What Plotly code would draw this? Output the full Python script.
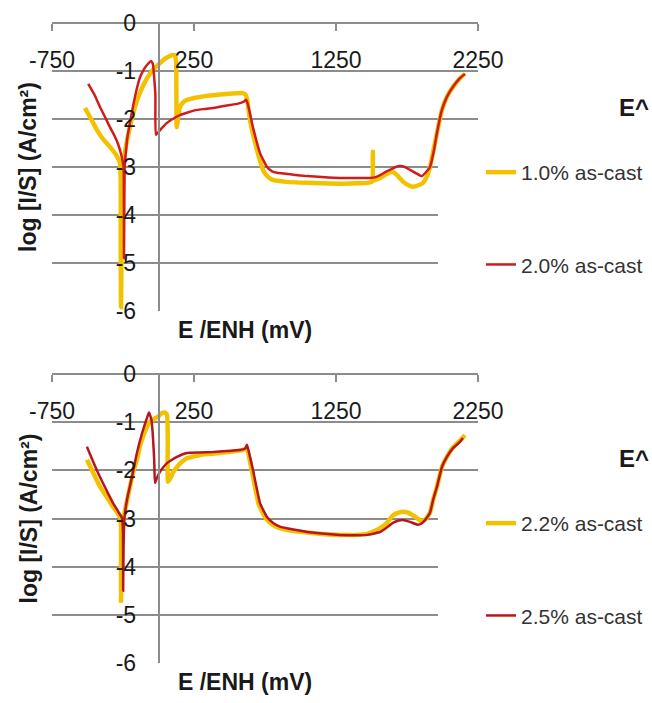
import plotly.graph_objects as go

# Polarisation curves, E (mV vs ENH) against log current density
x_10 = [-518, -475, -433, -390, -342, -300, -271, -266, -266, -264, -260, -256, -248, -225, -201, -180,
        -152, -120, -80, -40, -5, 30, 60, 95, 116, 124, 126, 128, 140, 151, 175, 201, 292, 433, 520,
        595, 615, 625, 644, 694, 736, 770, 806, 900, 1046, 1150, 1278, 1400, 1475, 1505, 1510, 1513,
        1560, 1610, 1644, 1680, 1720, 1760, 1792, 1830, 1862, 1890, 1912, 1940, 1961, 1996, 2031,
        2074, 2123, 2158]
y_10 = [-1.77, -2.0, -2.23, -2.42, -2.58, -2.74, -2.92, -3.3, -4.5, -5.92, -4.6, -3.4, -2.95, -2.5,
        -2.17, -1.9, -1.62, -1.38, -1.15, -0.98, -0.88, -0.78, -0.72, -0.67, -0.67, -0.8, -1.5, -2.17,
        -1.95, -1.75, -1.65, -1.6, -1.54, -1.49, -1.47, -1.46, -1.5, -1.6, -2.02, -2.65, -3.06, -3.2,
        -3.27, -3.31, -3.33, -3.34, -3.35, -3.34, -3.33, -3.3, -2.68, -3.28, -3.23, -3.14, -3.1, -3.17,
        -3.3, -3.38, -3.41, -3.38, -3.33, -3.2, -3.0, -2.6, -2.29, -1.81, -1.54, -1.33, -1.15, -1.06]

x_20 = [-495, -450, -412, -375, -342, -310, -285, -262, -246, -244, -243, -241, -238, -230, -220, -201,
        -166, -130, -100, -81, -53, -40, -22, -18, 20, 60, 100, 151, 210, 271, 330, 384, 440, 503, 560,
        600, 616, 630, 665, 715, 764, 800, 834, 950, 1046, 1150, 1278, 1400, 1489, 1530, 1560, 1600,
        1630, 1670, 1700, 1735, 1771, 1820, 1855, 1880, 1912, 1940, 1961, 1996, 2031, 2074, 2123, 2158]
y_20 = [-1.27, -1.5, -1.75, -1.97, -2.17, -2.35, -2.52, -2.75, -3.0, -3.5, -4.9, -4.0, -3.0, -2.7,
        -2.4, -2.08, -1.54, -1.13, -0.95, -0.875, -0.79, -0.85, -1.5, -2.33, -2.2, -2.08, -2.0, -1.92,
        -1.86, -1.81, -1.79, -1.77, -1.74, -1.71, -1.68, -1.64, -1.6, -1.7, -2.17, -2.71, -3.0, -3.09,
        -3.12, -3.16, -3.19, -3.21, -3.23, -3.23, -3.23, -3.21, -3.17, -3.1, -3.06, -3.0, -2.98, -3.0,
        -3.06, -3.14, -3.19, -3.12, -3.0, -2.65, -2.29, -1.81, -1.54, -1.33, -1.15, -1.06]

x_22 = [-504, -460, -412, -365, -320, -285, -266, -264, -264, -260, -252, -230, -201, -175, -152, -130,
        -109, -85, -60, -30, 0, 25, 45, 60, 65, 67, 85, 105, 130, 165, 201, 250, 292, 360, 433, 520,
        590, 615, 628, 660, 705, 755, 800, 855, 950, 1046, 1150, 1278, 1380, 1468, 1520, 1560, 1609,
        1645, 1680, 1720, 1750, 1790, 1820, 1850, 1877, 1912, 1935, 1961, 1996, 2031, 2074, 2123, 2158]
y_22 = [-1.78, -2.05, -2.34, -2.55, -2.76, -2.9, -3.03, -3.5, -4.75, -3.8, -3.1, -2.75, -2.34, -2.0,
        -1.78, -1.5, -1.3, -1.12, -0.99, -0.93, -0.88, -0.81, -0.8, -0.85, -1.3, -2.24, -2.15, -2.03,
        -1.93, -1.82, -1.75, -1.71, -1.68, -1.66, -1.64, -1.61, -1.58, -1.55, -1.6, -2.05, -2.7, -3.0,
        -3.12, -3.2, -3.26, -3.29, -3.32, -3.34, -3.34, -3.32, -3.26, -3.2, -3.09, -2.95, -2.89, -2.86,
        -2.87, -2.93, -2.99, -3.05, -3.03, -2.88, -2.6, -2.34, -1.93, -1.72, -1.52, -1.38, -1.27]

x_25 = [-504, -460, -412, -365, -320, -285, -257, -250, -249, -246, -240, -222, -187, -152, -116, -81,
        -67, -50, -30, -25, -10, 10, 35, 60, 95, 130, 201, 290, 384, 480, 574, 610, 623, 635, 665, 715,
        764, 810, 855, 950, 1046, 1150, 1278, 1380, 1468, 1520, 1560, 1610, 1651, 1690, 1722, 1771,
        1827, 1855, 1877, 1912, 1935, 1961, 1996, 2031, 2074, 2123, 2144]
y_25 = [-1.51, -1.82, -2.14, -2.42, -2.68, -2.85, -2.99, -3.3, -4.5, -3.6, -3.0, -2.61, -2.14, -1.64,
        -1.23, -0.91, -0.8, -0.95, -1.8, -2.26, -2.15, -2.03, -1.93, -1.85, -1.78, -1.72, -1.64, -1.63,
        -1.62, -1.6, -1.58, -1.55, -1.47, -1.6, -1.99, -2.68, -2.97, -3.1, -3.17, -3.23, -3.28, -3.31,
        -3.34, -3.35, -3.34, -3.31, -3.28, -3.18, -3.09, -3.04, -3.03, -3.07, -3.13, -3.1, -3.03, -2.88,
        -2.6, -2.34, -1.93, -1.72, -1.54, -1.41, -1.33]

x_ticks = [-750, 250, 1250, 2250]
x_tick_labels = ["-750", "250", "1250", "2250"]
y_ticks = [0, -1, -2, -3, -4, -5, -6]
y_tick_labels = ["0", "-1", "-2", "-3", "-4", "-5", "-6"]

W, H = 652, 703
YELLOW = "#F2C200"
RED_TOP = "#D01C1C"
RED_BOTTOM = "#B8161E"
GRID = "#8c8c8c"
FONT = "Liberation Sans, Arial, sans-serif"


def fx(p):
    return p / W


def fy(p):
    return 1 - p / H


fig = go.Figure()

series = [
    (x_10, y_10, "1.0% as-cast", YELLOW, 4.5, "x", "y", "legend"),
    (x_20, y_20, "2.0% as-cast", RED_TOP, 2.5, "x", "y", "legend"),
    (x_22, y_22, "2.2% as-cast", YELLOW, 4.5, "x2", "y2", "legend2"),
    (x_25, y_25, "2.5% as-cast", RED_BOTTOM, 2.5, "x2", "y2", "legend2"),
]
for i, (xs, ys, name, color, width, xa, ya, lg) in enumerate(series):
    fig.add_trace(go.Scatter(
        x=xs, y=ys, name=name, mode="lines",
        line=dict(color=color, width=width, shape="spline", smoothing=0.4),
        xaxis=xa, yaxis=ya, legend=lg, legendgroup=f"g{i}",
    ))

x_dom = [fx(52), fx(478)]
y0_pos = x_dom[0] + (0 - x_ticks[0]) / (x_ticks[-1] - x_ticks[0]) * (x_dom[1] - x_dom[0])

panels = [(23, 311), (374, 663)]
layout = dict(
    width=W, height=H,
    margin=dict(l=0, r=0, t=0, b=0, autoexpand=False),
    paper_bgcolor="white", plot_bgcolor="white",
    font=dict(family=FONT, color="#1a1a1a"),
)
annotations = []
shapes = []
for k, (top, bot) in enumerate(panels):
    sfx = "" if k == 0 else "2"
    layout["xaxis" + sfx] = dict(
        domain=x_dom, range=[x_ticks[0], x_ticks[-1]], anchor="free", position=fy(top),
        side="bottom", tickvals=x_ticks, ticktext=x_tick_labels, ticks="outside", ticklen=7,
        tickcolor=GRID, tickwidth=1.5, showline=True, linecolor=GRID, linewidth=1.5,
        showgrid=False, zeroline=False, tickfont=dict(size=23, family=FONT, color="#1a1a1a"),
        ticklabelstandoff=10, automargin=False,
    )
    layout["yaxis" + sfx] = dict(
        domain=[fy(bot), fy(top)], range=[y_ticks[-1], y_ticks[0]], anchor="free",
        position=y0_pos, tickvals=y_ticks, ticktext=y_tick_labels, ticks="", showline=True,
        linecolor=GRID, linewidth=1.5, showgrid=True, gridcolor=GRID, gridwidth=1.5,
        zeroline=False, tickfont=dict(size=23, family=FONT, color="#1a1a1a"),
        ticklabelstandoff=17, automargin=False,
    )
    # blank panel behind the legend hides the lower grid lines on the right
    shapes.append(dict(
        type="rect", xref="x" + sfx, yref="y" + sfx, x0=1968, x1=2400, y0=-2.55, y1=-6.3,
        fillcolor="white", line=dict(width=0), layer="between",
    ))
    annotations.append(dict(
        text="<b>E /ENH (mV)</b>", xref="paper", yref="paper", x=fx(245),
        y=fy(bot + 19), showarrow=False, font=dict(size=23, family=FONT, color="#1a1a1a"),
        xanchor="center", yanchor="middle",
    ))
    annotations.append(dict(
        text="<b>log [I/S] (A/cm²)</b>", xref="paper", yref="paper", x=fx(28),
        y=fy((top + bot) / 2 + 0), textangle=-90, showarrow=False,
        font=dict(size=23, family=FONT, color="#1a1a1a"), xanchor="center", yanchor="middle",
    ))
    annotations.append(dict(
        text="<b>E^</b>", xref="paper", yref="paper", x=fx(617), y=fy(top + 84),
        showarrow=False, font=dict(size=24, family=FONT, color="#1a1a1a"),
        xanchor="left", yanchor="middle",
    ))
    layout["legend" + sfx] = dict(
        x=fx(481), xanchor="left", y=fy(top + 129), yanchor="top",
        font=dict(size=21, family=FONT, color="#333333"), tracegroupgap=62,
        bgcolor="rgba(0,0,0,0)", traceorder="grouped",
    )

layout["annotations"] = annotations
layout["shapes"] = shapes
layout["showlegend"] = True
fig.update_layout(**layout)

fig.write_html("out.html")
